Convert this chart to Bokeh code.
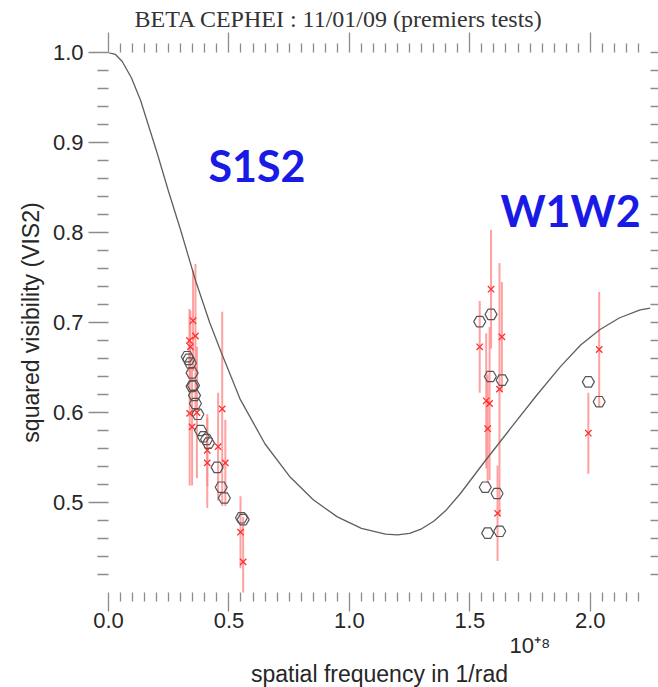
from bokeh.plotting import figure
from bokeh.models import Range1d, FixedTicker, LinearAxis, Label, Title
from bokeh.embed import file_html
from bokeh.resources import INLINE

# Model squared-visibility curve (frequency in units of 1e8 rad^-1)
model_freq = [0.000, 0.028, 0.057, 0.095, 0.133, 0.200, 0.250, 0.299, 0.361, 0.420,
              0.469, 0.548, 0.650, 0.755, 0.850, 0.950, 1.050, 1.150, 1.200, 1.250,
              1.300, 1.350, 1.400, 1.461, 1.560, 1.668, 1.780, 1.876, 1.960, 2.039,
              2.120, 2.207, 2.249]
model_vis2 = [1.000, 0.998, 0.990, 0.972, 0.947, 0.890, 0.845, 0.803, 0.747, 0.700,
              0.666, 0.614, 0.565, 0.528, 0.503, 0.484, 0.4712, 0.4648, 0.4640, 0.4657,
              0.4708, 0.4792, 0.491, 0.510, 0.545, 0.582, 0.620, 0.651, 0.675, 0.692,
              0.705, 0.714, 0.716]

# Calibrated points (open symbols)
cal_freq = [0.327, 0.333, 0.340, 0.347, 0.353, 0.357, 0.347, 0.361, 0.371, 0.382,
            0.394, 0.407, 0.415, 0.451, 0.468, 0.481, 0.552, 0.559,
            1.541, 1.588, 1.585, 1.634, 1.564, 1.613, 1.574, 1.624,
            1.992, 2.037]
cal_vis2 = [0.662, 0.659, 0.655, 0.644, 0.630, 0.619, 0.629, 0.610, 0.598, 0.580,
            0.573, 0.570, 0.566, 0.539, 0.517, 0.505, 0.483, 0.481,
            0.701, 0.709, 0.640, 0.636, 0.517, 0.510, 0.466, 0.468,
            0.634, 0.612]

# Measurements with 1-sigma error bars (red crosses)
raw_freq = [0.336, 0.340, 0.351, 0.361, 0.337, 0.347, 0.367, 0.410, 0.410, 0.455,
            0.472, 0.485, 0.548, 0.559,
            1.541, 1.588, 1.633, 1.623, 1.568, 1.582, 1.574, 1.615,
            1.992, 2.037]
raw_vis2 = [0.680, 0.673, 0.702, 0.685, 0.599, 0.584, 0.600, 0.558, 0.544, 0.562,
            0.604, 0.544, 0.467, 0.434,
            0.673, 0.737, 0.684, 0.626, 0.613, 0.610, 0.582, 0.488,
            0.577, 0.670]
raw_err = [0.035, 0.040, 0.056, 0.080, 0.080, 0.065, 0.073, 0.040, 0.050, 0.060,
           0.108, 0.048, 0.040, 0.050,
           0.051, 0.066, 0.061, 0.140, 0.075, 0.085, 0.060, 0.053,
           0.045, 0.064]

x_major = [0.0, 0.5, 1.0, 1.5, 2.0]
x_labels = ["0.0", "0.5", "1.0", "1.5", "2.0"]
y_major = [0.5, 0.6, 0.7, 0.8, 0.9, 1.0]
y_labels = ["0.5", "0.6", "0.7", "0.8", "0.9", "1.0"]

x_minor = [round(0.05 * i, 2) for i in range(1, 45) if i % 10 != 0]
y_minor = [round(0.40 + 0.02 * i, 2) for i in range(1, 30) if i % 5 != 0]

TICK = "#8c8c8c"
TEXT = "#262626"

p = figure(width=658, height=687, x_range=Range1d(0, 2.25), y_range=Range1d(0.4, 1.0),
           output_backend="svg", toolbar_location=None,
           x_axis_location=None, y_axis_location=None,
           min_border_left=108, min_border_right=8, min_border_top=52, min_border_bottom=95)
p.xgrid.visible = False
p.ygrid.visible = False
p.outline_line_color = None
p.background_fill_color = "white"
p.border_fill_color = "white"

p.title.text = "BETA CEPHEI : 11/01/09 (premiers tests)"
p.title.text_font = "Liberation Serif"
p.title.text_font_size = "24px"
p.title.text_font_style = "normal"
p.title.text_color = "#333333"
p.title.align = "left"
p.title.offset = 26
p.title.standoff = 2


def style_axis(ax, major_out, minor_out):
    ax.axis_line_color = None
    ax.major_tick_in = 0
    ax.minor_tick_in = 0
    ax.major_tick_out = major_out
    ax.minor_tick_out = minor_out
    ax.major_tick_line_color = TICK
    ax.minor_tick_line_color = TICK
    ax.major_tick_line_width = 1.3
    ax.minor_tick_line_width = 1.3
    ax.major_label_text_font = "Liberation Sans"
    ax.major_label_text_color = TEXT
    ax.axis_label_text_font = "Liberation Sans"
    ax.axis_label_text_font_style = "normal"
    ax.axis_label_text_color = TEXT


def blank_labels(ax, ticks):
    ax.major_label_overrides = {t: "" for t in ticks}
    ax.major_label_text_font_size = "1px"
    ax.major_label_standoff = 0


left = LinearAxis(ticker=FixedTicker(ticks=y_major, minor_ticks=y_minor))
style_axis(left, 20, 11)
left.major_label_overrides = dict(zip(y_major, y_labels))
left.major_label_text_font_size = "22px"
left.major_label_standoff = 5
left.axis_label = "squared visibility (VIS2)"
left.axis_label_text_font_size = "23px"
left.axis_label_standoff = 6
p.add_layout(left, "left")

right = LinearAxis(ticker=FixedTicker(ticks=y_major, minor_ticks=y_minor))
style_axis(right, 8, 8)
blank_labels(right, y_major)
p.add_layout(right, "right")

bottom = LinearAxis(ticker=FixedTicker(ticks=x_major, minor_ticks=x_minor))
style_axis(bottom, 19, 9)
bottom.major_label_overrides = dict(zip(x_major, x_labels))
bottom.major_label_text_font_size = "22px"
bottom.major_label_standoff = 1
p.add_layout(bottom, "below")

top = LinearAxis(ticker=FixedTicker(ticks=x_major, minor_ticks=x_minor))
style_axis(top, 20, 9)
blank_labels(top, x_major)
p.add_layout(top, "above")

# Exponent of the frequency axis, then the axis title, stacked under the tick labels
p.add_layout(Title(text="10⁺⁸", align="left", offset=401, standoff=1,
                   text_font="Liberation Sans", text_font_size="22px",
                   text_font_style="normal", text_color=TEXT), "below")
p.add_layout(Title(text="spatial frequency in 1/rad", align="center", standoff=0,
                   text_font="Liberation Sans", text_font_size="23px",
                   text_font_style="normal", text_color=TEXT), "below")

# Error bars
lo = [v - e for v, e in zip(raw_vis2, raw_err)]
hi = [v + e for v, e in zip(raw_vis2, raw_err)]
p.segment(x0=raw_freq, y0=lo, x1=raw_freq, y1=hi, line_color="#ff8a8a", line_width=2, line_alpha=0.8)
p.scatter(raw_freq, raw_vis2, marker="x", size=9, line_color="#ff3030", line_width=1.3)

# Calibrated points
p.scatter(cal_freq, cal_vis2, marker="hex", size=12, fill_color=None,
          line_color="#555555", line_width=1.2)

# Model curve
p.line(model_freq, model_vis2, line_color="#5f5f5f", line_width=1.3)

# Baseline annotations
for txt, x, y in [("S1S2", 0.415, 0.875), ("W1W2", 1.627, 0.825)]:
    p.add_layout(Label(x=x, y=y, text=txt, text_font="Lato", text_font_size="43px",
                       text_font_style="bold", text_color="#1a1ae6",
                       text_baseline="alphabetic"))

open("out.html", "w").write(file_html(p, INLINE))
